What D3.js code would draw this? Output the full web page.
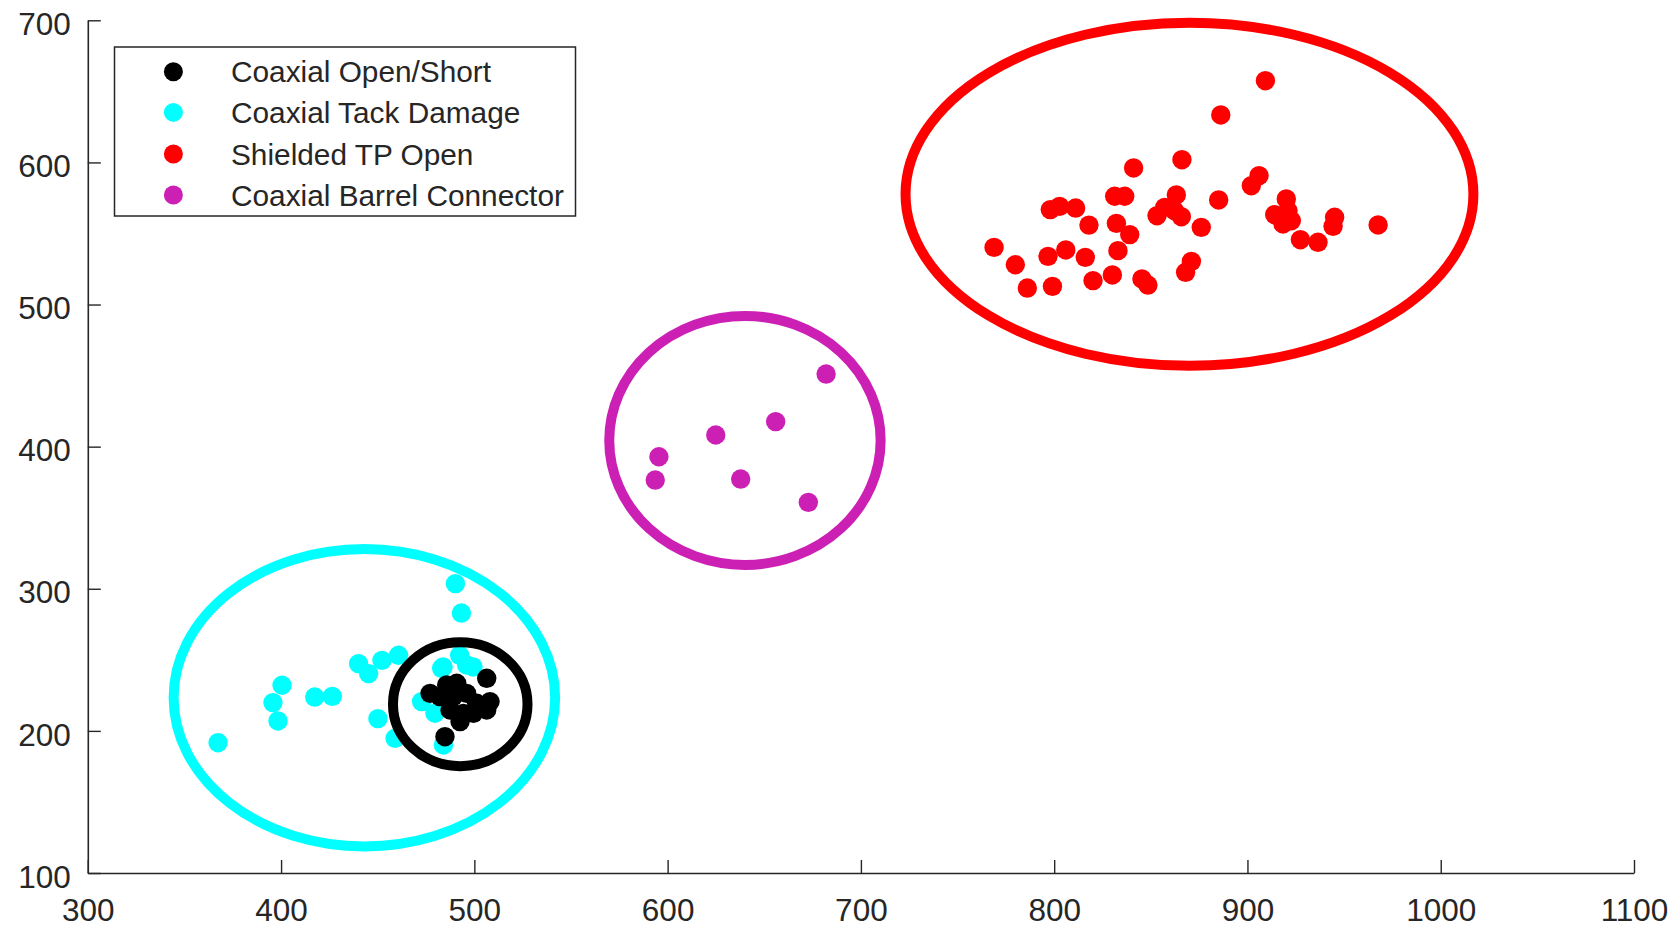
<!DOCTYPE html>
<html>
<head>
<meta charset="utf-8">
<script src="https://cdn.jsdelivr.net/npm/d3@7"></script>
<style>
  html, body { margin: 0; padding: 0; background: #fff; }
  svg { display: block; }
  text { font-family: "Liberation Sans", Arial, Helvetica, sans-serif; fill: #262626; }
</style>
</head>
<body>
<svg id="chart" width="1678" height="937"></svg>
<script>
// ---- data ----
const xTicks = [300, 400, 500, 600, 700, 800, 900, 1000, 1100];
const yTicks = [100, 200, 300, 400, 500, 600, 700];

const seriesNames = ["Coaxial Open/Short", "Coaxial Tack Damage", "Shielded TP Open", "Coaxial Barrel Connector"];
const seriesColors = ["#000000", "#00ffff", "#ff0000", "#cc1fb4"];

const openShort = [
  [506.4, 237.0], [485.7, 232.3], [490.9, 233.5], [477.1, 226.4], [482.2, 224.1],
  [489.1, 224.1], [496.0, 226.4], [501.2, 219.4], [508.1, 220.6], [487.4, 214.7],
  [494.3, 212.3], [499.5, 212.3], [506.4, 214.7], [492.6, 206.5], [484.8, 195.9]
];
const tackDamage = [
  [490.2, 303.6], [493.3, 282.9], [440.1, 247.3], [445.3, 240.3], [452.2, 249.6],
  [460.8, 253.2], [400.5, 232.1], [395.8, 219.9], [398.4, 207.0], [417.4, 223.8],
  [426.5, 224.3], [367.4, 191.7], [450.1, 208.6], [483.8, 245.0], [492.4, 253.2],
  [499.3, 245.0], [472.7, 220.6], [479.6, 212.4], [459.0, 194.8], [484.0, 190.1],
  [483.1, 244.0], [496.0, 246.4]
];
const shieldedOpen = [
  [909.3, 657.5], [886.2, 633.4], [866.1, 601.9], [841.1, 596.1], [906.0, 590.7],
  [902.0, 583.6], [831.3, 576.2], [836.5, 576.2], [863.2, 577.1], [857.2, 568.4],
  [853.2, 562.5], [865.8, 561.8], [862.3, 566.0], [885.1, 573.6], [798.0, 566.8],
  [802.8, 569.1], [811.1, 567.9], [818.0, 555.9], [832.2, 557.1], [839.1, 549.2],
  [876.1, 554.3], [920.1, 574.3], [921.0, 566.0], [914.1, 563.2], [918.4, 556.7],
  [922.7, 559.0], [945.1, 561.4], [944.3, 555.0], [967.6, 556.0], [927.4, 545.6],
  [936.5, 543.8], [768.9, 540.2], [779.9, 528.0], [796.8, 533.9], [806.0, 538.4],
  [816.1, 533.2], [833.0, 537.9], [871.0, 530.4], [868.0, 522.7], [786.1, 511.6],
  [799.1, 512.8], [820.1, 516.8], [830.1, 520.8], [845.4, 518.0], [848.5, 513.7]
];
const barrelConnector = [
  [682.0, 451.1], [655.9, 417.6], [624.9, 408.2], [595.5, 392.9], [593.6, 376.5],
  [637.8, 377.2], [672.8, 360.8]
];

// cluster ellipses: [centerX, centerY, radiusX, radiusY] in data units
const ellipseOpenShort = [492.7, 218.8, 34.8, 43.6];
const ellipseTack = [443.1, 223.3, 98.7, 104.6];
const ellipseShielded = [870.0, 577.6, 146.9, 120.7];
const ellipseBarrel = [640.0, 404.4, 70.2, 87.6];

// ---- chart ----
const svg = d3.select("#chart");
const x = d3.scaleLinear().domain([300, 1100]).range([87.8, 1634]);
const y = d3.scaleLinear().domain([100, 700]).range([873, 20.3]);
const ink = "#262626";
const fmt = d3.format("d");

// axes
const gx = svg.append("g").attr("transform", `translate(0,${y(100)})`)
  .call(d3.axisBottom(x).tickValues(xTicks).tickFormat(fmt).tickSizeInner(-13).tickSizeOuter(0).tickPadding(26));
const gy = svg.append("g").attr("transform", `translate(${x(300)},0)`)
  .call(d3.axisLeft(y).tickValues(yTicks).tickFormat(fmt).tickSizeInner(-13).tickSizeOuter(0).tickPadding(17));
[gx, gy].forEach(g => {
  g.select(".domain").attr("stroke", ink).attr("stroke-width", 1.6);
  g.selectAll(".tick line").attr("stroke", ink).attr("stroke-width", 1.4);
  g.selectAll(".tick text").attr("fill", ink).style("font-size", "31.5px")
    .style("font-family", "'Liberation Sans', Arial, Helvetica, sans-serif");
});
gy.selectAll(".tick text").attr("dy", "0.45em");

// points
const layer = svg.append("g");
function drawPoints(data, color) {
  layer.append("g").selectAll("circle").data(data).join("circle")
    .attr("cx", d => x(d[0])).attr("cy", d => y(d[1])).attr("r", 9.7)
    .attr("fill", color);
}
drawPoints(tackDamage, seriesColors[1]);
drawPoints(openShort, seriesColors[0]);
drawPoints(shieldedOpen, seriesColors[2]);
drawPoints(barrelConnector, seriesColors[3]);

// ellipses
function drawEllipse(e, color) {
  svg.append("ellipse")
    .attr("cx", x(e[0])).attr("cy", y(e[1]))
    .attr("rx", x(e[0] + e[2]) - x(e[0]))
    .attr("ry", y(e[1]) - y(e[1] + e[3]))
    .attr("fill", "none").attr("stroke", color).attr("stroke-width", 10);
}
drawEllipse(ellipseTack, seriesColors[1]);
drawEllipse(ellipseOpenShort, seriesColors[0]);
drawEllipse(ellipseShielded, seriesColors[2]);
drawEllipse(ellipseBarrel, seriesColors[3]);

// legend
const legend = svg.append("g");
legend.append("rect").attr("x", 114.5).attr("y", 47).attr("width", 461).attr("height", 169)
  .attr("fill", "#fff").attr("stroke", ink).attr("stroke-width", 1.5);
const rowY = [71.7, 112.4, 154, 195];
seriesNames.forEach((name, i) => {
  legend.append("circle").attr("cx", 173.4).attr("cy", rowY[i]).attr("r", 9.5).attr("fill", seriesColors[i]);
  legend.append("text").attr("x", 231).attr("y", rowY[i]).attr("dy", "0.36em")
    .style("font-size", "29.8px").attr("fill", ink).text(name);
});
</script>
</body>
</html>
